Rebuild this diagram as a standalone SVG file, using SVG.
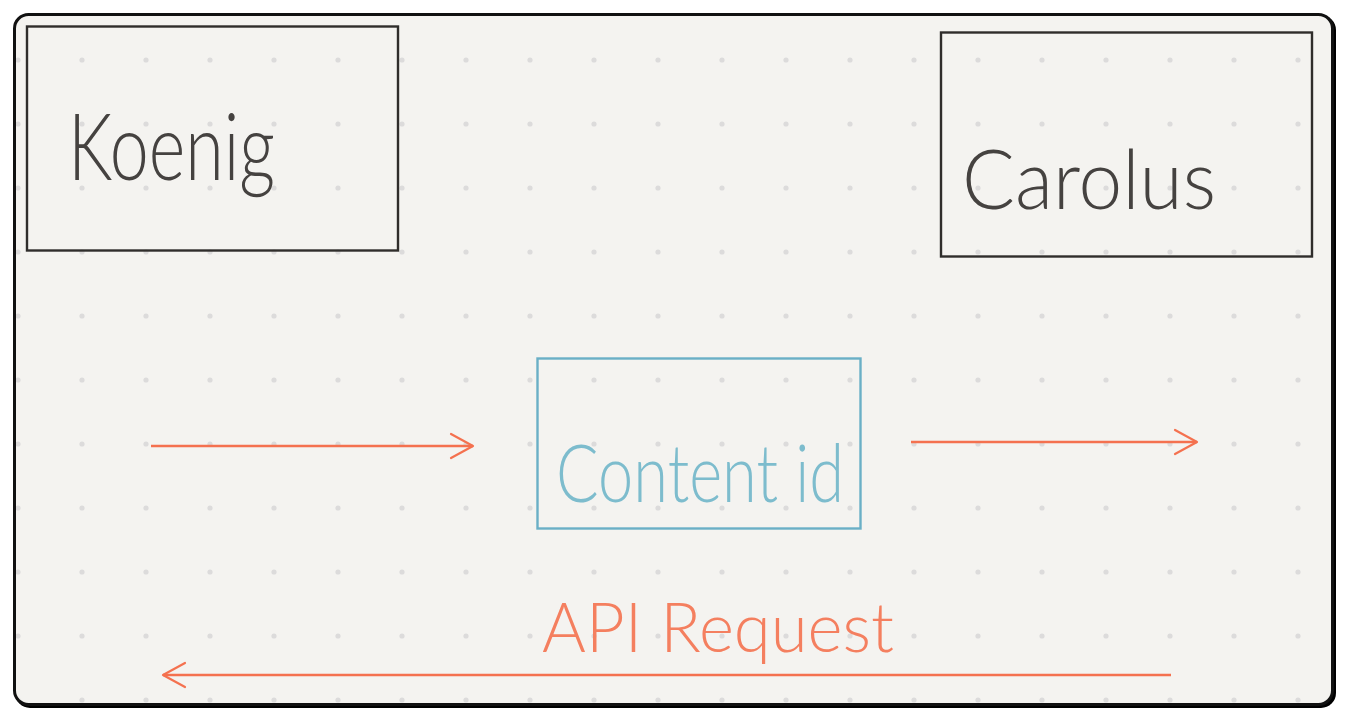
<svg xmlns="http://www.w3.org/2000/svg" width="1346" height="720" viewBox="0 0 1346 720">
  <defs>
    <pattern id="dots" x="0" y="0" width="64" height="64" patternUnits="userSpaceOnUse">
      <circle cx="18" cy="60" r="2.6" fill="#dcdbdb"/>
    </pattern>
    <marker id="arrow" viewBox="0 0 30 30" refX="26" refY="15" markerWidth="30" markerHeight="30" markerUnits="userSpaceOnUse" orient="auto">
      <path d="M4 3 L26 15 L4 27" fill="none" stroke="#f4714f" stroke-width="2.2" stroke-linecap="round" stroke-linejoin="round"/>
    </marker>
    <style>
      .box { fill: none; stroke: #2f2d2b; stroke-width: 2.4; }
      .hand { font-family: Lato, "Liberation Sans", sans-serif; font-weight: 300; }
      .dark { fill: #454240; }
      .conn { stroke: #f4714f; stroke-width: 2.4; fill: none; marker-end: url(#arrow); }
    </style>
  </defs>
  <rect width="1346" height="720" fill="#ffffff"/>
  <rect x="15" y="15" width="1321" height="693" rx="15" fill="#000000"/>
  <rect x="14.5" y="14.5" width="1318" height="690" rx="14" fill="#f4f3f0" stroke="#111" stroke-width="3"/>
  <rect x="16" y="16" width="1315" height="687" rx="13" fill="url(#dots)"/>

  <g id="koenig">
    <rect class="box" x="27" y="26.5" width="371" height="224"/>
    <text class="hand dark" x="68" y="180" font-size="92" textLength="207" lengthAdjust="spacingAndGlyphs">Koenig</text>
  </g>

  <g id="carolus">
    <rect class="box" x="941" y="32.5" width="371" height="224"/>
    <text class="hand dark" x="962" y="209" font-size="82" textLength="254" lengthAdjust="spacingAndGlyphs">Carolus</text>
  </g>

  <g id="content-id">
    <rect x="537.5" y="358.5" width="323" height="170" fill="none" stroke="#6aafc6" stroke-width="2.4"/>
    <text class="hand" x="556" y="502" font-size="80" fill="#7dbccd" textLength="288" lengthAdjust="spacingAndGlyphs">Content id</text>
  </g>

  <g id="api-request-label">
    <text class="hand" x="542" y="652" font-size="68" fill="#f47f5f" textLength="352" lengthAdjust="spacingAndGlyphs">API Request</text>
  </g>

  <g id="connectors">
    <line class="conn" x1="151" y1="446" x2="473" y2="446"/>
    <line class="conn" x1="911" y1="442" x2="1197" y2="442"/>
    <line class="conn" x1="1171" y1="675" x2="163" y2="675"/>
  </g>
</svg>
